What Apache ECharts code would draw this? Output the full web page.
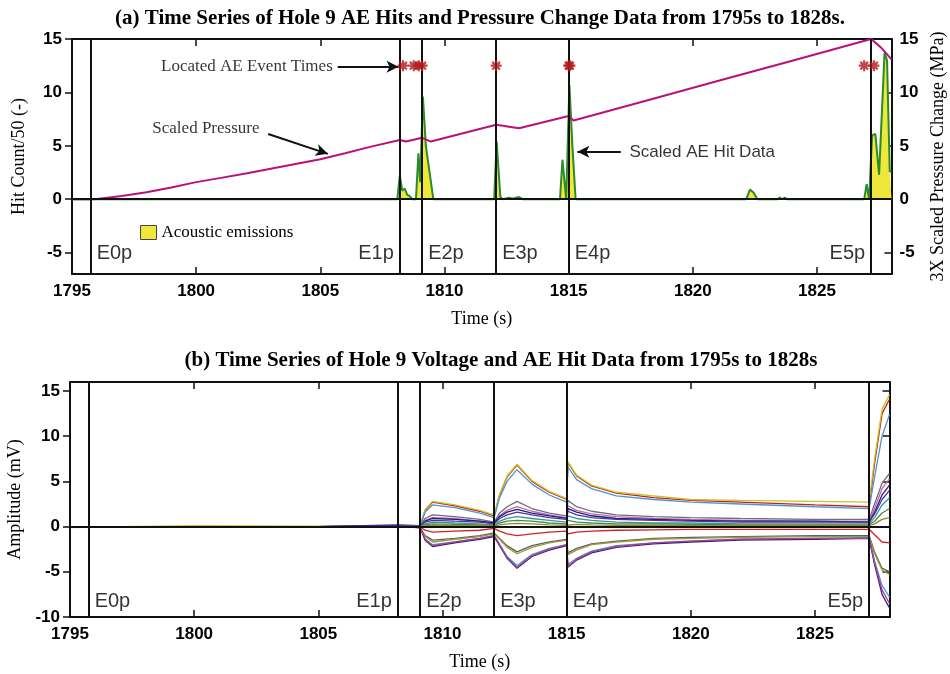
<!DOCTYPE html>
<html><head><meta charset="utf-8">
<script src="https://cdn.jsdelivr.net/npm/echarts@6/dist/echarts.min.js"></script>
<style>html,body{margin:0;padding:0;background:#fff}#c{width:950px;height:674px}</style>
</head><body><div id="c"></div>
<script>
// ---------- data ----------
const xTickVals = [1795, 1800, 1805, 1810, 1815, 1820, 1825];
const yTickValsA = [-5, 0, 5, 10, 15];
const yTickValsB = [-10, -5, 0, 5, 10, 15];
const eventTimes = [1795.75, 1808.2, 1809.1, 1812.08, 1815.0, 1827.18];
const eventNames = ['E0p', 'E1p', 'E2p', 'E3p', 'E4p', 'E5p'];
const eventSide = ['right', 'left', 'right', 'right', 'right', 'left'];

// AE hit count / 50
const tAE = [1795, 1808.1, 1808.2, 1808.3, 1808.4, 1808.5, 1808.6, 1808.7, 1808.85, 1808.95, 1809.02, 1809.13, 1809.25, 1809.4, 1809.55,
  1812.0, 1812.1, 1812.25, 1812.35, 1812.6, 1812.75, 1813.0, 1813.15, 1814.65, 1814.75, 1814.9, 1815.03, 1815.15, 1815.28,
  1822.15, 1822.3, 1822.45, 1822.6, 1823.4, 1823.5, 1823.6, 1823.7, 1823.8, 1826.9, 1827.0, 1827.1, 1827.22, 1827.35, 1827.5,
  1827.72, 1827.82, 1827.93, 1828];
const hits = [0, 0, 2.2, 0.8, 1.0, 0.4, 0.3, 0, 0, 4.3, 1.6, 9.6, 5.0, 2.5, 0,
  0, 5.4, 0.2, 0, 0.15, 0.05, 0.2, 0, 0, 3.7, 0, 10.7, 5.0, 0,
  0, 0.9, 0.6, 0, 0, 0.15, 0, 0.15, 0, 0, 1.4, 0, 6.0, 6.1, 2.3,
  13.7, 13.0, 2.6, 2.6];

// 3X scaled pressure change (MPa)
const tP = [1795, 1795.75, 1796, 1797, 1798, 1799, 1800, 1801, 1802, 1803, 1804, 1805, 1806, 1807, 1808.2, 1808.45,
  1809.1, 1809.45, 1812.08, 1813.0, 1815.0, 1815.2, 1818, 1821, 1824, 1827.18, 1827.6, 1828];
const pressure = [0, 0, 0.03, 0.3, 0.65, 1.1, 1.6, 2.0, 2.4, 2.85, 3.3, 3.75, 4.3, 4.9, 5.55, 5.4,
  5.75, 5.4, 6.97, 6.65, 7.8, 7.37, 9.15, 11.06, 12.97, 15.0, 14.15, 13.1];

// Located AE event times
const aeEventTimes = [1808.33, 1808.76, 1808.96, 1809.1, 1812.08, 1815.0, 1815.05, 1826.9, 1827.29];
const aeEventLevel = [12.5, 12.5, 12.5, 12.5, 12.5, 12.5, 12.5, 12.5, 12.5];

// Voltage channels (mV)
const tV = [1795, 1800, 1805, 1808.2, 1809.1, 1809.3, 1809.6, 1810.5, 1811.5, 1812.08, 1812.3, 1812.6, 1813.0, 1813.6, 1814.3,
  1815.0, 1815.05, 1815.4, 1816, 1817, 1818.5, 1820, 1822, 1825, 1827.18, 1827.4, 1827.7, 1828];
const ch1 = [0, 0, 0, 0.05, 0.1, 1.8, 2.7, 2.3, 1.7, 1.2, 3.5, 5.5, 6.8, 5.0, 3.8, 3.0, 7.1, 5.6, 4.5, 3.7, 3.2, 2.9, 2.7, 2.4, 2.2, 7.0, 12.5, 14.1];
const ch2 = [-0.1, 0.1, 0.05, 0.05, 0.1, 1.9, 2.8, 2.4, 1.8, 1.3, 3.6, 5.6, 6.9, 5.1, 3.9, 3.1, 7.2, 5.7, 4.6, 3.8, 3.4, 3.0, 2.9, 2.8, 2.7, 7.5, 13.0, 14.6];
const ch3 = [0, 0, 0, 0, 0.1, 1.6, 2.4, 2.1, 1.5, 1.0, 3.2, 5.0, 6.3, 4.7, 3.5, 2.7, 6.6, 5.2, 4.2, 3.4, 3.0, 2.7, 2.5, 2.2, 2.0, 5.5, 10.0, 12.4];
const ch4 = [0, 0, 0, 0.1, 0.1, 0.9, 1.3, 1.1, 0.8, 0.5, 1.5, 2.2, 2.8, 2.0, 1.5, 1.2, 2.9, 2.2, 1.7, 1.3, 1.1, 1.0, 0.9, 0.8, 0.8, 2.5, 4.8, 5.9];
const ch5 = [0, 0, 0, 0.1, 0.1, 0.7, 1.0, 0.9, 0.6, 0.4, 1.2, 1.8, 2.2, 1.7, 1.3, 1.0, 2.3, 1.8, 1.4, 1.1, 0.9, 0.8, 0.7, 0.6, 0.6, 2.0, 4.2, 5.3];
const ch6 = [0, 0, 0, 0.2, 0.1, 0.6, 0.9, 0.8, 0.6, 0.4, 1.1, 1.6, 1.9, 1.5, 1.2, 0.9, 2.0, 1.6, 1.2, 0.9, 0.8, 0.7, 0.6, 0.6, 0.5, 1.6, 3.5, 4.6];
const ch7 = [0, 0, 0, 0.1, 0.1, 0.5, 0.7, 0.6, 0.5, 0.3, 0.9, 1.3, 1.6, 1.3, 1.0, 0.8, 1.7, 1.3, 1.0, 0.8, 0.7, 0.6, 0.5, 0.5, 0.5, 1.4, 3.0, 4.0];
const ch8 = [0, 0, 0, 0, 0.05, 0.3, 0.5, 0.4, 0.3, 0.2, 0.6, 0.9, 1.1, 0.9, 0.7, 0.5, 1.2, 0.9, 0.7, 0.5, 0.4, 0.4, 0.3, 0.3, 0.3, 1.0, 2.4, 3.2];
const ch9 = [0, 0, 0, 0, 0.05, 0.2, 0.3, 0.25, 0.2, 0.1, 0.4, 0.6, 0.7, 0.6, 0.4, 0.3, 0.7, 0.5, 0.4, 0.3, 0.3, 0.25, 0.2, 0.2, 0.2, 0.6, 1.5, 2.0];
const ch10 = [0, 0, 0, 0, 0, 0.1, 0.15, 0.1, 0.1, 0.05, 0.2, 0.3, 0.35, 0.3, 0.2, 0.15, 0.35, 0.25, 0.2, 0.15, 0.15, 0.1, 0.1, 0.1, 0.1, 0.3, 0.8, 1.0];
const ch11 = [0, 0, 0, 0, -0.05, -0.4, -0.6, -0.5, -0.4, -0.2, -0.5, -0.8, -1.0, -0.8, -0.6, -0.5, -0.8, -0.6, -0.5, -0.4, -0.35, -0.3, -0.3, -0.3, -0.3, -0.9, -1.7, -1.8];
const ch12 = [0, 0, 0, 0, -0.1, -1.0, -1.5, -1.3, -1.0, -0.7, -1.3, -2.1, -2.8, -2.1, -1.7, -1.4, -2.9, -2.4, -1.9, -1.6, -1.3, -1.2, -1.1, -1.0, -1.0, -2.8, -4.6, -5.0];
const ch13 = [0, 0, 0, 0, -0.1, -1.1, -1.7, -1.4, -1.1, -0.8, -1.4, -2.3, -3.0, -2.3, -1.8, -1.5, -3.1, -2.6, -2.0, -1.7, -1.4, -1.3, -1.2, -1.1, -1.1, -3.0, -4.8, -5.3];
const ch14 = [0, 0, 0, 0, -0.1, -1.4, -2.0, -1.7, -1.3, -1.0, -2.0, -3.3, -4.3, -3.1, -2.4, -2.0, -4.2, -3.5, -2.7, -2.1, -1.8, -1.6, -1.4, -1.3, -1.2, -3.8, -6.5, -7.8];
const ch15 = [0, 0, 0, 0, -0.1, -1.5, -2.2, -1.8, -1.4, -1.1, -2.1, -3.5, -4.6, -3.3, -2.6, -2.1, -4.5, -3.7, -2.9, -2.3, -1.9, -1.7, -1.5, -1.4, -1.3, -4.2, -7.5, -9.0];
const ch16 = [0, 0, 0, 0, -0.1, -1.4, -2.1, -1.7, -1.3, -1.0, -2.0, -3.4, -4.5, -3.2, -2.5, -2.0, -4.4, -3.6, -2.8, -2.2, -1.8, -1.6, -1.4, -1.3, -1.3, -4.0, -7.0, -8.5];
const channels = [ch1, ch2, ch3, ch4, ch5, ch6, ch7, ch8, ch9, ch10, ch11, ch12, ch13, ch14, ch15, ch16];

// ---------- styles ----------
const chColors = ['#c81e1e', '#c9c22a', '#4f95cf', '#6e6e7a', '#c46aa6', '#1f1f86', '#5a2d9c', '#2e9a9a',
  '#4b8a4b', '#8c8c2c', '#d42222', '#5f5f5f', '#9a9a38', '#4aa0d0', '#3a1f80', '#a8408c'];
const SANS = 'Liberation Sans', SERIF = 'Liberation Serif';
const X0 = 1795, X1 = 1828;

const chart = echarts.init(document.getElementById('c'), null, {renderer: 'canvas'});
const pair = (xs, ys) => xs.map((x, i) => [x, ys[i]]);

const tickLabel = {fontFamily: SANS, fontWeight: 'bold', fontSize: 17, color: '#000', formatter: v => String(v)};
const axLine = {show: true, onZero: false, lineStyle: {color: '#111', width: 2}};

function xAxes(grid) {
  return [
    {type: 'value', gridIndex: grid, min: X0, max: X1, position: 'bottom',
      name: 'Time (s)', nameLocation: 'middle', nameGap: 36,
      nameTextStyle: {fontFamily: SERIF, fontSize: 18, color: '#000'},
      axisLine: axLine, splitLine: {show: false},
      axisTick: {inside: true, length: 7, lineStyle: {width: 1.5, color: '#111'}, customValues: xTickVals},
      axisLabel: Object.assign({margin: 9, customValues: xTickVals}, tickLabel)},
    {type: 'value', gridIndex: grid, min: X0, max: X1, position: 'top',
      axisLine: axLine, splitLine: {show: false},
      axisTick: {inside: true, length: 7, lineStyle: {width: 1.5, color: '#111'}, customValues: xTickVals},
      axisLabel: {show: false}}
  ];
}

function eventLabels(xi, yi, yLevel) {
  return {
    type: 'scatter', xAxisIndex: xi, yAxisIndex: yi, symbolSize: 0, silent: true, z: 5,
    data: eventTimes.map((t, i) => ({value: [t, yLevel], name: eventNames[i],
      label: {show: true, position: eventSide[i], distance: 6, formatter: eventNames[i],
        fontFamily: SANS, fontSize: 20, color: '#000'}})),
    markLine: {silent: true, symbol: ['none', 'none'], label: {show: false},
      lineStyle: {color: '#111', width: 2, type: 'solid'}, animation: false,
      data: eventTimes.map(t => ({xAxis: t})).concat([{yAxis: 0}])}
  };
}

const asteriskPath = 'path://M5 0 L5 10 M0 5 L10 5 M1.5 1.5 L8.5 8.5 M1.5 8.5 L8.5 1.5';

const option = {
  animation: false,
  backgroundColor: '#fff',
  title: [
    {text: '(a) Time Series of Hole 9 AE Hits and Pressure Change Data from 1795s to 1828s.', left: 475, top: 3, textAlign: 'center',
      textStyle: {fontFamily: SERIF, fontWeight: 'bold', fontSize: 21, color: '#000'}},
    {text: '(b) Time Series of Hole 9 Voltage and AE Hit Data from 1795s to 1828s', left: 496, top: 345, textAlign: 'center',
      textStyle: {fontFamily: SERIF, fontWeight: 'bold', fontSize: 21, color: '#000'}}
  ],
  legend: {
    left: 135, top: 219, itemWidth: 16, itemHeight: 14, itemGap: 5,
    data: [{name: 'Acoustic emissions', icon: 'rect', itemStyle: {color: '#efe83a', borderColor: '#444', borderWidth: 1}}],
    textStyle: {fontFamily: SERIF, fontSize: 17, color: '#000'}
  },
  grid: [
    {left: 72, right: 58.5, top: 39, height: 235, containLabel: false, outerBoundsMode: 'none'},
    {left: 70, right: 60.5, top: 382, height: 235, containLabel: false, outerBoundsMode: 'none'}
  ],
  xAxis: xAxes(0).concat(xAxes(1)),
  yAxis: [
    {type: 'value', gridIndex: 0, min: -7, max: 15, position: 'left',
      name: 'Hit Count/50 (-)', nameLocation: 'middle', nameGap: 44,
      nameTextStyle: {fontFamily: SERIF, fontSize: 18, color: '#000'},
      axisLine: axLine, splitLine: {show: false},
      axisTick: {inside: false, length: 7, lineStyle: {width: 1.5, color: '#111'}, customValues: yTickValsA},
      axisLabel: Object.assign({margin: 10, customValues: yTickValsA}, tickLabel)},
    {type: 'value', gridIndex: 0, min: -7, max: 15, position: 'right',
      name: '3X Scaled Pressure Change (MPa)', nameLocation: 'middle', nameGap: 38, nameRotate: 90,
      nameTextStyle: {fontFamily: SERIF, fontSize: 18, color: '#000'},
      axisLine: axLine, splitLine: {show: false},
      axisTick: {inside: true, length: 7, lineStyle: {width: 1.5, color: '#111'}, customValues: yTickValsA},
      axisLabel: Object.assign({margin: 8, customValues: yTickValsA}, tickLabel)},
    {type: 'value', gridIndex: 1, min: -10, max: 16, position: 'left',
      name: 'Amplitude (mV)', nameLocation: 'middle', nameGap: 44,
      nameTextStyle: {fontFamily: SERIF, fontSize: 18, color: '#000'},
      axisLine: axLine, splitLine: {show: false},
      axisTick: {inside: false, length: 7, lineStyle: {width: 1.5, color: '#111'}, customValues: yTickValsB},
      axisLabel: Object.assign({margin: 10, customValues: yTickValsB}, tickLabel)},
    {type: 'value', gridIndex: 1, min: -10, max: 16, position: 'right',
      axisLine: axLine, splitLine: {show: false},
      axisTick: {inside: true, length: 7, lineStyle: {width: 1.5, color: '#111'}, customValues: yTickValsB},
      axisLabel: {show: false}}
  ],
  series: [
    // ---- chart (a) ----
    {name: 'Acoustic emissions', type: 'line', xAxisIndex: 0, yAxisIndex: 0, symbol: 'none', z: 3,
      data: pair(tAE, hits),
      lineStyle: {color: '#2b8a2b', width: 2}, itemStyle: {color: '#efe83a'},
      areaStyle: {color: '#efe83a', opacity: 1}},
    {name: 'Scaled Pressure', type: 'line', xAxisIndex: 0, yAxisIndex: 1, symbol: 'none', z: 4,
      data: pair(tP, pressure), lineStyle: {color: '#b8127a', width: 2}},
    {name: 'Located AE Event Times', type: 'scatter', xAxisIndex: 0, yAxisIndex: 0, z: 6,
      symbol: asteriskPath, symbolSize: 11,
      itemStyle: {color: 'rgba(0,0,0,0)', borderColor: '#b01818', borderWidth: 2.2},
      data: pair(aeEventTimes, aeEventLevel)},
    eventLabels(0, 0, -5.1),
    // annotations (text + arrows)
    {type: 'scatter', xAxisIndex: 0, yAxisIndex: 0, symbolSize: 0, silent: true, z: 7,
      data: [
        {value: [1805.5, 12.4], label: {show: true, position: 'left', distance: 0, formatter: 'Located AE Event Times',
          fontFamily: SERIF, fontSize: 17, color: '#000'}},
        {value: [1802.55, 6.6], label: {show: true, position: 'left', distance: 0, formatter: 'Scaled Pressure',
          fontFamily: SERIF, fontSize: 17, color: '#000'}},
        {value: [1817.45, 4.4], label: {show: true, position: 'right', distance: 0, formatter: 'Scaled AE Hit Data',
          fontFamily: SANS, fontSize: 17, color: '#000'}}
      ],
      markLine: {silent: true, symbol: ['none', 'arrow'], symbolSize: [9, 12], label: {show: false},
        lineStyle: {color: '#111', width: 2, type: 'solid'},
        data: [
          [{coord: [1805.7, 12.4]}, {coord: [1808.15, 12.4]}],
          [{coord: [1802.9, 6.1]}, {coord: [1805.3, 4.25]}],
          [{coord: [1817.1, 4.45]}, {coord: [1815.35, 4.45]}]
        ]}},
    // ---- chart (b) ----
    ...channels.map((ch, i) => ({type: 'line', xAxisIndex: 2, yAxisIndex: 2, symbol: 'none', silent: true, z: 2,
      data: pair(tV, ch), lineStyle: {color: chColors[i], width: 1.3}})),
    eventLabels(2, 2, -8.3)
  ]
};
chart.setOption(option);
</script></body></html>
